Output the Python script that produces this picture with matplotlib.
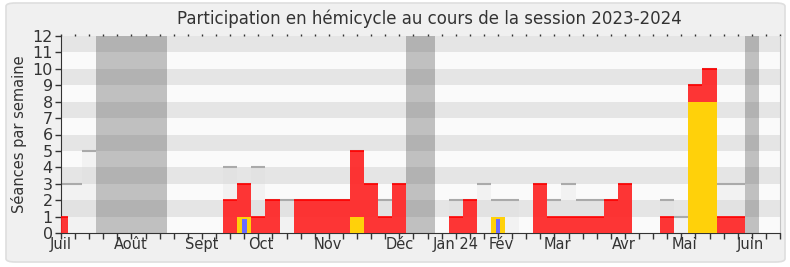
import numpy as np
import matplotlib
matplotlib.use('Agg')
import matplotlib.pyplot as plt
from matplotlib.patches import FancyBboxPatch

# weeks since the start of the session (0 = first week of July 2023)
weeks = list(range(51))

# seances held in the hemicycle each week (grey)
seances = [3, 3, 5, 0, 0, 0, 0, 0, 0, 0, 0, 0, 4, 3, 4, 2, 2, 2, 2, 2,
           2, 5, 3, 2, 3, 0, 0, 0, 2, 2, 3, 2, 2, 0, 3, 2, 3, 2, 2, 2,
           3, 0, 0, 2, 1, 9, 10, 3, 3, 0, 0]
# presences (red)
presences = [1, 0, 0, 0, 0, 0, 0, 0, 0, 0, 0, 0, 2, 3, 1, 2, 0, 2, 2, 2,
             2, 5, 3, 1, 3, 0, 0, 0, 1, 2, 0, 0, 0, 0, 3, 1, 1, 1, 1, 2,
             3, 0, 0, 1, 0, 9, 10, 1, 1, 0, 0]
# interventions (yellow)
interventions = [0, 0, 0, 0, 0, 0, 0, 0, 0, 0, 0, 0, 0, 1, 0, 0, 0, 0, 0, 0,
                 0, 1, 0, 0, 0, 0, 0, 0, 0, 0, 0, 1, 0, 0, 0, 0, 0, 0, 0, 0,
                 0, 0, 0, 0, 0, 8, 8, 0, 0, 0, 0]
# questions orales (blue)
questions = [0, 0, 0, 0, 0, 0, 0, 0, 0, 0, 0, 0, 0, 1, 0, 0, 0, 0, 0, 0,
             0, 0, 0, 0, 0, 0, 0, 0, 0, 0, 0, 1, 0, 0, 0, 0, 0, 0, 0, 0,
             0, 0, 0, 0, 0, 0, 0, 0, 0, 0, 0]

# parliamentary holidays (first week, last week)
vacances = [(3, 7), (25, 26), (49, 49)]

mois = ['Juil', 'Août', 'Sept', 'Oct', 'Nov', 'Déc', 'Jan 24', 'Fév',
        'Mar', 'Avr', 'Mai', 'Juin']
mois_pos = [0, 4.95, 9.96, 14.15, 18.96, 24.0, 27.97, 31.2, 35.2, 39.95,
            44.2, 48.9]

W, H = 790, 267
fig = plt.figure(figsize=(W / 100, H / 100), dpi=100)
fig.patch.set_facecolor('white')
frame = FancyBboxPatch((6 / W, 5 / H), 779 / W, 259 / H,
                       boxstyle='round,pad=0,rounding_size=0.012',
                       transform=fig.transFigure, facecolor='#f0f0f0',
                       edgecolor='#dedede', linewidth=1.2, zorder=-10)
fig.patches.append(frame)

ax = fig.add_axes([61 / W, 34 / H, 719 / W, 197 / H])
ax.set_xlim(0, 51)
ax.set_ylim(0, 12)

# alternating horizontal stripes
for k in range(12):
    ax.axhspan(k, k + 1, color='#e5e5e5' if k % 2 else '#fafafa',
               lw=0, zorder=0)

for a, b in vacances:
    ax.axvspan(a - 0.5, b + 0.5, color='#3c3c3c', alpha=0.3, lw=0, zorder=1)

x = np.array(weeks)
s = np.array(seances)
p = np.array(presences)
it = np.array(interventions)
q = np.array(questions)

ax.bar(x, s, width=1, color='#d8d8d8', alpha=0.22, lw=0, zorder=2)
m = s > 0
ax.hlines(s[m], x[m] - 0.5, x[m] + 0.5, color='#aaaaaa', lw=1.5, zorder=2.5)

ax.bar(x, p, width=1, color='#ff2020', alpha=0.9, lw=0, zorder=3)
m = p > 0
ax.hlines(p[m], x[m] - 0.5, x[m] + 0.5, color='#ff0000', lw=1.2, zorder=3.5)

ax.bar(x, it, width=1, color='#ffd10a', lw=0, zorder=4)
ax.bar(x, q * 0.85, width=0.33, color='#6a6aff', lw=0, zorder=5)

# axes styling
ax.spines['top'].set_visible(False)
ax.spines['right'].set_color('#c4c4c4')
ax.spines['left'].set_color('#333333')
ax.spines['bottom'].set_color('#333333')

ax.set_yticks(range(13))
ax.set_yticklabels([str(v) for v in range(13)], fontsize=11.5, color='#333333')
ax.tick_params(axis='y', length=4, width=1, color='#333333', pad=2)

ax.xaxis.remove_overlapping_locs = False
ax.set_xticks(range(52))
ax.set_xticklabels([])
ax.tick_params(axis='x', which='major', length=4, width=1, color='#333333')
ax.set_xticks(mois_pos, minor=True)
ax.set_xticklabels(mois, minor=True, fontsize=10.5, color='#333333')
ax.tick_params(axis='x', which='minor', length=0, pad=3)

top = ax.secondary_xaxis('top')
top.set_xticks(range(52))
top.set_xticklabels([])
top.tick_params(length=1.5, width=1, color='#333333', direction='out')
top.spines['top'].set_visible(False)

ax.set_ylabel('Séances par semaine', fontsize=10.5, color='#333333', labelpad=4)
fig.text(0.543, 0.928, 'Participation en hémicycle au cours de la session 2023-2024',
         ha='center', va='center', fontsize=12, color='#333333')

fig.savefig('out.png', dpi=100, facecolor=fig.get_facecolor())
